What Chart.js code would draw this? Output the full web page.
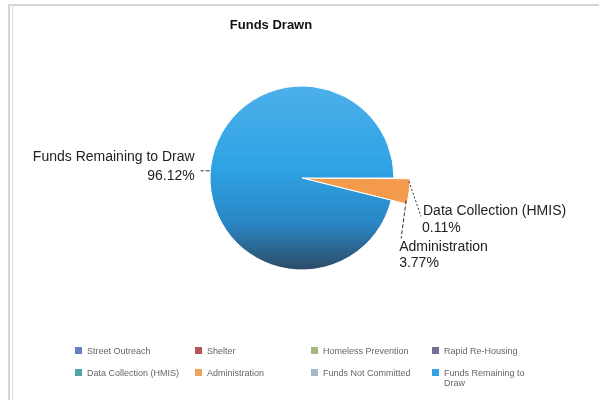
<!DOCTYPE html>
<html>
<head>
<meta charset="utf-8">
<script src="https://cdn.jsdelivr.net/npm/chart.js@4.4.0/dist/chart.umd.min.js"></script>
<style>
	html, body { margin: 0; padding: 0; background: #fff; }
	#wrap { position: relative; width: 599px; height: 400px; overflow: hidden; font-family: "Liberation Sans", Arial, sans-serif; }
	#chart { position: absolute; left: 0; top: 0; }
	.frameTop { position: absolute; left: 8px; top: 4px; width: 591px; height: 2px; background: #d4d4d4; }
	.frameL1 { position: absolute; left: 8px; top: 4px; width: 2px; height: 396px; background: #d4d4d4; }
	.frameL2 { position: absolute; left: 12px; top: 6px; width: 1px; height: 394px; background: #dcdcdc; }
	#title { position: absolute; left: 171px; width: 200px; top: 17px; text-align: center; font-weight: bold; font-size: 13px; color: #111; }
	.lg { position: absolute; font-size: 9px; color: #666; line-height: 10px; }
	.lg span.box { position: absolute; left: 0; top: 1px; width: 7px; height: 7px; }
	.lg span.txt { display: block; margin-left: 12px; }
</style>
</head>
<body>
<div id="wrap">
	<div class="frameTop"></div>
	<div class="frameL1"></div>
	<div class="frameL2"></div>
	<canvas id="chart" width="599" height="400"></canvas>
	<div id="title">Funds Drawn</div>
	<div id="legend"></div>
</div>
<script>
// 데이터
const categories = ['Street Outreach', 'Shelter', 'Homeless Prevention', 'Rapid Re-Housing',
	'Data Collection (HMIS)', 'Administration', 'Funds Not Committed', 'Funds Remaining to Draw'];
const percentValues = [0, 0, 0, 0, 0.11, 3.77, 0, 96.12];
const legendColors = ['#6a7fbf', '#b9545a', '#a3b77f', '#7b6b98', '#52a3a8', '#eda25e', '#a8b6cc', '#34a3e2'];
const shownLabels = ['Funds Remaining to Draw', 'Data Collection (HMIS)', 'Administration'];

// 범례 (HTML)
const legendCols = [75, 195, 311, 432];
const legendRows = [346, 368];
const legendEl = document.getElementById('legend');
categories.forEach(function(name, i) {
	const item = document.createElement('div');
	item.className = 'lg';
	item.style.left = legendCols[i % 4] + 'px';
	item.style.top = legendRows[Math.floor(i / 4)] + 'px';
	item.style.width = (i % 4 === 3 ? 96 : 115) + 'px';
	item.innerHTML = '<span class="box" style="background:' + legendColors[i] + '"></span><span class="txt">' + name + '</span>';
	legendEl.appendChild(item);
});

const ctx = document.getElementById('chart').getContext('2d');

function sliceColor(context) {
	const chart = context.chart;
	const area = chart.chartArea;
	if (!area) return legendColors[context.dataIndex];
	const i = context.dataIndex;
	if (i === 7) {
		const g = chart.ctx.createLinearGradient(0, area.top, 0, area.bottom);
		g.addColorStop(0, '#4cb0ea');
		g.addColorStop(0.45, '#2ea2e4');
		g.addColorStop(0.75, '#2a86c4');
		g.addColorStop(1, '#2c4a66');
		return g;
	}
	if (i === 5) return '#f49a4c';
	return legendColors[i];
}

// 관리비 조각 바깥 반지름 확대
const growSlice = {
	id: 'growSlice',
	afterDatasetsUpdate(chart) {
		const meta = chart.getDatasetMeta(0);
		[4, 5].forEach(function(i) {
			meta.data[i].outerRadius = meta.data[i].outerRadius + 16;
		});
	}
};

// 라벨 + 지시선
const sliceLabels = {
	id: 'sliceLabels',
	afterDraw(chart) {
		const c = chart.ctx;
		const meta = chart.getDatasetMeta(0);
		c.save();
		c.font = '14px "Liberation Sans", Arial, sans-serif';
		c.fillStyle = '#222';
		c.strokeStyle = '#333';
		c.lineWidth = 1;
		meta.data.forEach(function(arc, i) {
			const name = categories[i];
			if (shownLabels.indexOf(name) < 0) return;
			const mid = (arc.startAngle + arc.endAngle) / 2;
			const ex = arc.x + Math.cos(mid) * arc.outerRadius;
			const ey = arc.y + Math.sin(mid) * arc.outerRadius;
			const pct = percentValues[i].toFixed(2) + '%';
			c.beginPath();
			if (i === 7) {
				c.setLineDash([4, 2]);
				c.moveTo(ex - 1, ey + 4);
				c.lineTo(ex - 10, ey + 4);
				c.stroke();
				c.textAlign = 'right';
				c.textBaseline = 'middle';
				c.fillText(name, ex - 16, ey - 10);
				c.fillText(pct, ex - 16, ey + 9);
			} else if (i === 4) {
				c.setLineDash([2, 2]);
				c.moveTo(ex - 1, ey + 3);
				c.lineTo(ex + 11, ey + 38);
				c.stroke();
				c.textAlign = 'left';
				c.textBaseline = 'middle';
				c.fillText(name, ex + 13, ey + 33);
				c.fillText(pct, ex + 12, ey + 50);
			} else {
				c.setLineDash([4, 2]);
				c.moveTo(ex - 3, ey + 9);
				c.lineTo(ex - 8, ey + 47);
				c.stroke();
				c.textAlign = 'left';
				c.textBaseline = 'middle';
				c.fillText(name, ex - 10, ey + 56);
				c.fillText(pct, ex - 10, ey + 72);
			}
		});
		c.restore();
	}
};

new Chart(ctx, {
	type: 'pie',
	data: {
		labels: categories,
		datasets: [{
			data: percentValues,
			backgroundColor: sliceColor,
			borderColor: '#ffffff',
			borderWidth: 1
		}]
	},
	options: {
		responsive: false,
		animation: false,
		rotation: 90,
		radius: 92,
		layout: {
			padding: { left: 210, right: 205, top: 86, bottom: 130 }
		},
		plugins: {
			legend: { display: false },
			title: { display: false },
			tooltip: { enabled: false }
		}
	},
	plugins: [growSlice, sliceLabels]
});
</script>
</body>
</html>
